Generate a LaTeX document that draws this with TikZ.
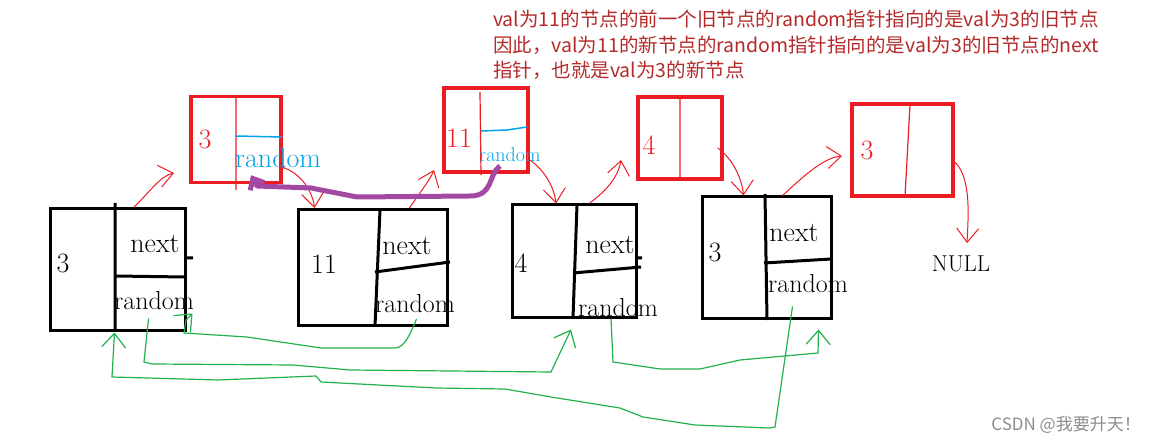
\documentclass[tikz,border=0pt]{standalone}
\usepackage{fontspec}
\newfontfamily\cjkfont{Noto Sans CJK SC}
\usepackage{xcolor}
\definecolor{PaintRed}{HTML}{ED1C24}
\definecolor{PaintBlue}{HTML}{00A2E8}
\definecolor{PaintGreen}{HTML}{22B14C}
\definecolor{PaintPurple}{HTML}{A349A4}
\definecolor{NoteRed}{HTML}{B42A2A}
\usepackage{tikz}
\usetikzlibrary{calc,positioning,arrows.meta}

\begin{document}
\begin{tikzpicture}[x=1pt,y=-1pt,
            oldnode/.style={draw=black, line width=3pt, inner sep=0pt},
            newnode/.style={draw=PaintRed, line width=3.5pt, inner sep=0pt},
            sep/.style={black, line width=3pt},
            thinsep/.style={PaintRed, line width=1.2pt},
            lbl/.style={anchor=base, inner sep=0pt, font=\fontsize{26}{26}\selectfont},
            num/.style={anchor=base, inner sep=0pt, font=\fontsize{28}{28}\selectfont},
            nextp/.style={PaintRed, line width=1pt, -{Straight Barb[length=14pt,width=22pt]}},
            randp/.style={PaintGreen, line width=1.2pt, -{Straight Barb[length=14pt,width=24pt]}},
            note/.style={anchor=base west, inner sep=0pt, text=NoteRed, font=\cjkfont\fontsize{19.5}{25}\selectfont}]
        \useasboundingbox (0,0) rectangle (1151,443);
        % old list
        \node[oldnode, minimum width=135pt, minimum height=122pt] (a) at (117.5,270) {};
        \node[oldnode, minimum width=149pt, minimum height=116pt] (b) at (372.5,267.5) {};
        \node[oldnode, minimum width=124pt, minimum height=113pt] (c) at (574,261.5) {};
        \node[oldnode, minimum width=129pt, minimum height=122pt] (d) at (766.5,258) {};
        \draw[sep] (115,203) -- (115,331) (115,276) -- (185,277) (185,258) -- (193,258);
        \draw[sep] (380,210) -- (375,326) (375,272) -- (450,262);
        \draw[sep] (577,205) -- (573,318) (573,273) -- (641,267) (636,258) -- (642,258);
        \draw[sep] (765,194) -- (767,320) (764,263) -- (831,259);
        \node[num] (a0) at (63,273) {3};   \node[lbl, font=\fontsize{28}{28}\selectfont] (a1) at (155,253) {next}; \node[lbl] (a2) at (154,310) {random};
        \node[num] (b0) at (324,274) {11}; \node[lbl, font=\fontsize{28}{28}\selectfont] (b1) at (407,255) {next}; \node[lbl] (b2) at (415,313) {random};
        \node[num] (c0) at (521,273) {4};  \node[lbl, font=\fontsize{28}{28}\selectfont] (c1) at (610,254) {next}; \node[lbl] (c2) at (618,317) {random};
        \node[num] (d0) at (715,262) {3};  \node[lbl, font=\fontsize{28}{28}\selectfont] (d1) at (794,242) {next}; \node[lbl] (d2) at (808,293) {random};
        \node[lbl, font=\fontsize{23}{23}\selectfont] (nul) at (961,272) {NULL};
        % new list
        \node[newnode, minimum width=90pt, minimum height=86pt] (na) at (236,139.5) {};
        \node[newnode, minimum width=84pt, minimum height=84pt] (nb) at (486,130) {};
        \node[newnode, minimum width=84pt, minimum height=82pt] (nc) at (680,138) {};
        \node[newnode, minimum width=101pt, minimum height=92pt] (nd) at (902.5,150) {};
        \draw[thinsep] (236,96) -- (236,190) (480,92) -- (481,175) (680,97) -- (680,179) (910,105) -- (905,196);
        \draw[PaintBlue, line width=1.5pt] (236,136) -- (282,137) (481,131) -- (507,130) -- (527,127);
        \node[num, text=PaintRed] (na0) at (205,149) {3};
        \node[num, text=PaintRed] (nb0) at (459,148) {11};
        \node[num, text=PaintRed] (nc0) at (649,155) {4};
        \node[num, text=PaintRed] (nd0) at (867,160) {3};
        \node[anchor=base west, inner sep=0pt, text=PaintBlue, font=\fontsize{28}{28}\selectfont] (na2) at (235,168) {random};
        \node[anchor=base west, inner sep=0pt, text=PaintBlue, font=\fontsize{20}{20}\selectfont] (nb2) at (479,162) {random};
        % next pointers
        \coordinate (ta) at (174,173);
        \coordinate (tb) at (434,170);
        \coordinate (tc) at (621,160);
        \coordinate (td) at (842,156);
        \draw[nextp] ([xshift=16pt]a.north) .. controls (150,192) and (160,176) .. (ta);
        \draw[nextp] ([yshift=-28pt]na.east) .. controls (298,172) and (312,188) .. ([xshift=-58pt]b.north);
        \draw[nextp] ([xshift=37pt]b.north) .. controls (418,195) and (430,180) .. (tb);
        \draw[nextp] ([yshift=-30pt]nb.east) .. controls (542,168) and (554,185) .. ([xshift=-18pt]c.north);
        \draw[nextp] ([xshift=15pt]c.north) .. controls (605,192) and (618,178) .. (tc);
        \draw[nextp] ([xshift=-6pt,yshift=-10pt]nc.east) .. controls (732,158) and (742,178) .. ([xshift=-23pt]d.north);
        \draw[nextp] ([xshift=16pt]d.north) .. controls (802,178) and (822,158) .. (td);
        \draw[nextp] ([yshift=-12pt]nd.east) .. controls (972,178) and (968,220) .. ([xshift=6pt,yshift=13pt]nul.north);
        \draw[PaintPurple, line width=5pt, line join=round, -{Straight Barb[length=9pt,width=16pt]}]
            ([xshift=14pt,yshift=-36pt]nb.center) .. controls (488,174) and (494,196) .. (470,196)
            -- (357,197) -- (311,188) -- (257,186) -- ([xshift=15pt,yshift=9pt]na.south);
        % random pointers
        \draw[randp] ([xshift=44pt,yshift=8pt]b.south) .. controls (410,335) and (404,348) .. (395,348)
            -- (321,348) -- (247,337) -- (184,333) -- (186,320) -- ([xshift=75pt,yshift=19pt]a.south);
        \draw[randp] ([xshift=31pt,yshift=14pt]a.south) -- (144,362) -- (152,364) -- (293,365) -- (350,370)
            -- (551,372) -- ([xshift=-3pt,yshift=-10pt]c.south);
        \draw[randp] ([xshift=37pt,yshift=1pt]c.south) -- (613,362) -- (660,369) -- (700,369) -- (740,360)
            -- (818,353) -- ([xshift=52pt,yshift=-9pt]d.south);
        \draw[randp] ([xshift=26pt,yshift=14pt]d.south) -- (775,427) -- (769,428) -- (695,425) -- (643,417)
            -- (620,408) -- (551,397) -- (505,389) -- (436,388) -- (321,382) -- (316,376) -- (218,380)
            -- (112,377) -- ([xshift=-3pt]a.south);
        % note
        \node[note] (t1) at (493,27) {val为11的节点的前一个旧节点的random指针指向的是val为3的旧节点};
        \node[note] (t2) at (493,53) {因此，val为11的新节点的random指针指向的是val为3的旧节点的next};
        \node[note] (t3) at (493,78) {指针，也就是val为3的新节点};
        \node[anchor=base east, inner sep=0pt, text=black!45, font=\cjkfont\fontsize{17}{17}\selectfont] (mark) at (1141,430) {CSDN @我要升天！};
      \end{tikzpicture}
\end{document}
